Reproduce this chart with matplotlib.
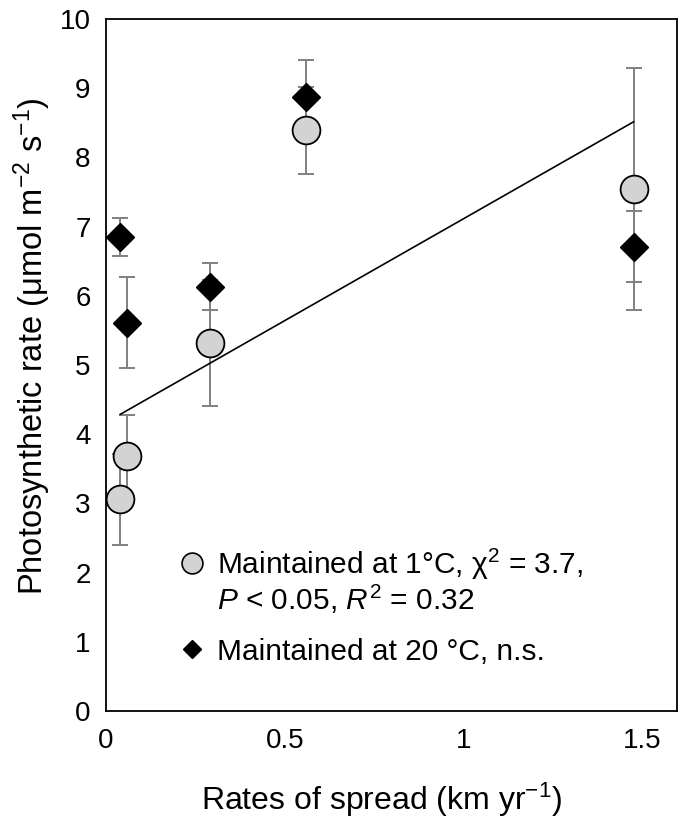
import numpy as np
import matplotlib
matplotlib.use('Agg')
import matplotlib.pyplot as plt
from matplotlib.lines import Line2D

plt.rcParams['font.family'] = ['Liberation Sans', 'DejaVu Sans']
plt.rcParams['mathtext.fontset'] = 'custom'
plt.rcParams['mathtext.rm'] = 'Liberation Sans'
plt.rcParams['mathtext.it'] = 'Liberation Sans:italic'

# Rates of spread (km/yr) for each population
rates = [0.04, 0.06, 0.29, 0.56, 1.475]

# Photosynthetic rate, plants maintained at 1 C
cold_rate = [3.06, 3.68, 5.32, 8.39, 7.54]
cold_err = [0.66, 0.60, 0.91, 0.63, 1.75]

# Photosynthetic rate, plants maintained at 20 C
warm_rate = [6.85, 5.61, 6.13, 8.87, 6.71]
warm_err = [0.28, 0.66, 0.34, 0.54, 0.51]

x_ticks = [0, 0.5, 1, 1.5]
x_tick_labels = ['0', '0.5', '1', '1.5']
y_ticks = list(range(0, 11))

fig = plt.figure(figsize=(6.78, 8.21), dpi=100)
ax = fig.add_axes([106 / 678, 110 / 821, 570.5 / 678, 692 / 821])

# error bars first, so the markers sit on top
ax.errorbar(rates, cold_rate, yerr=cold_err, fmt='none', ecolor='#808080',
            elinewidth=1.4, capsize=5.5, capthick=1.4, zorder=2)
ax.errorbar(rates, warm_rate, yerr=warm_err, fmt='none', ecolor='#808080',
            elinewidth=1.4, capsize=5.5, capthick=1.4, zorder=2)

# linear fit through the 1 C data
slope, intercept = np.polyfit(rates, cold_rate, 1)
fit_x = np.array([min(rates), max(rates)])
ax.plot(fit_x, slope * fit_x + intercept, color='black', linewidth=1.2, zorder=3)

ax.plot(rates, warm_rate, linestyle='none', marker='D', markersize=14,
        markerfacecolor='black', markeredgecolor='black', zorder=4)
ax.plot(rates, cold_rate, linestyle='none', marker='o', markersize=20,
        markerfacecolor='#d3d3d3', markeredgecolor='black', markeredgewidth=1.3, zorder=5)

ax.set_xlim(0, 1.595)
ax.set_ylim(0, 10)
ax.set_xticks(x_ticks)
ax.set_xticklabels(x_tick_labels)
ax.set_yticks(y_ticks)
ax.tick_params(length=0, labelsize=20)
ax.tick_params(axis='y', pad=11)
ax.tick_params(axis='x', pad=12)
for sp in ax.spines.values():
    sp.set_linewidth(1.3)

ax.set_xlabel('Rates of spread (km yr$^{\u22121}$)', fontsize=23, va='center')
ax.xaxis.set_label_coords(0.483, -0.128)
ax.set_ylabel('Photosynthetic rate (\u03bcmol m$^{\u22122}$ s$^{\u22121}$)', fontsize=23.5, va='center')
ax.yaxis.set_label_coords(-0.13, 0.527)

# legend in two parts: the 1 C entry runs over two lines
cold_handles = [
    Line2D([], [], linestyle='none', marker='o', markersize=15,
           markerfacecolor='#d3d3d3', markeredgecolor='black', markeredgewidth=1.2),
    Line2D([], [], linestyle='none'),
]
cold_labels = [
    'Maintained at 1\u00b0C, \u03c7$^{2}$ = 3.7,',
    '$P$ < 0.05, $R^{2}$ = 0.32',
]
leg1 = ax.legend(cold_handles, cold_labels, loc='upper left', bbox_to_anchor=(0.127, 0.238),
                 frameon=False, fontsize=21.5, handlelength=0.9, handletextpad=0.4,
                 labelspacing=0.05, borderpad=0, borderaxespad=0)
ax.add_artist(leg1)

warm_handles = [
    Line2D([], [], linestyle='none', marker='D', markersize=9.5,
           markerfacecolor='black', markeredgecolor='black'),
]
warm_labels = ['Maintained at 20 \u00b0C, n.s.']
ax.legend(warm_handles, warm_labels, loc='upper left', bbox_to_anchor=(0.127, 0.106),
          frameon=False, fontsize=21.5, handlelength=0.9, handletextpad=0.4,
          borderpad=0, borderaxespad=0)

fig.savefig('out.png', dpi=100)
